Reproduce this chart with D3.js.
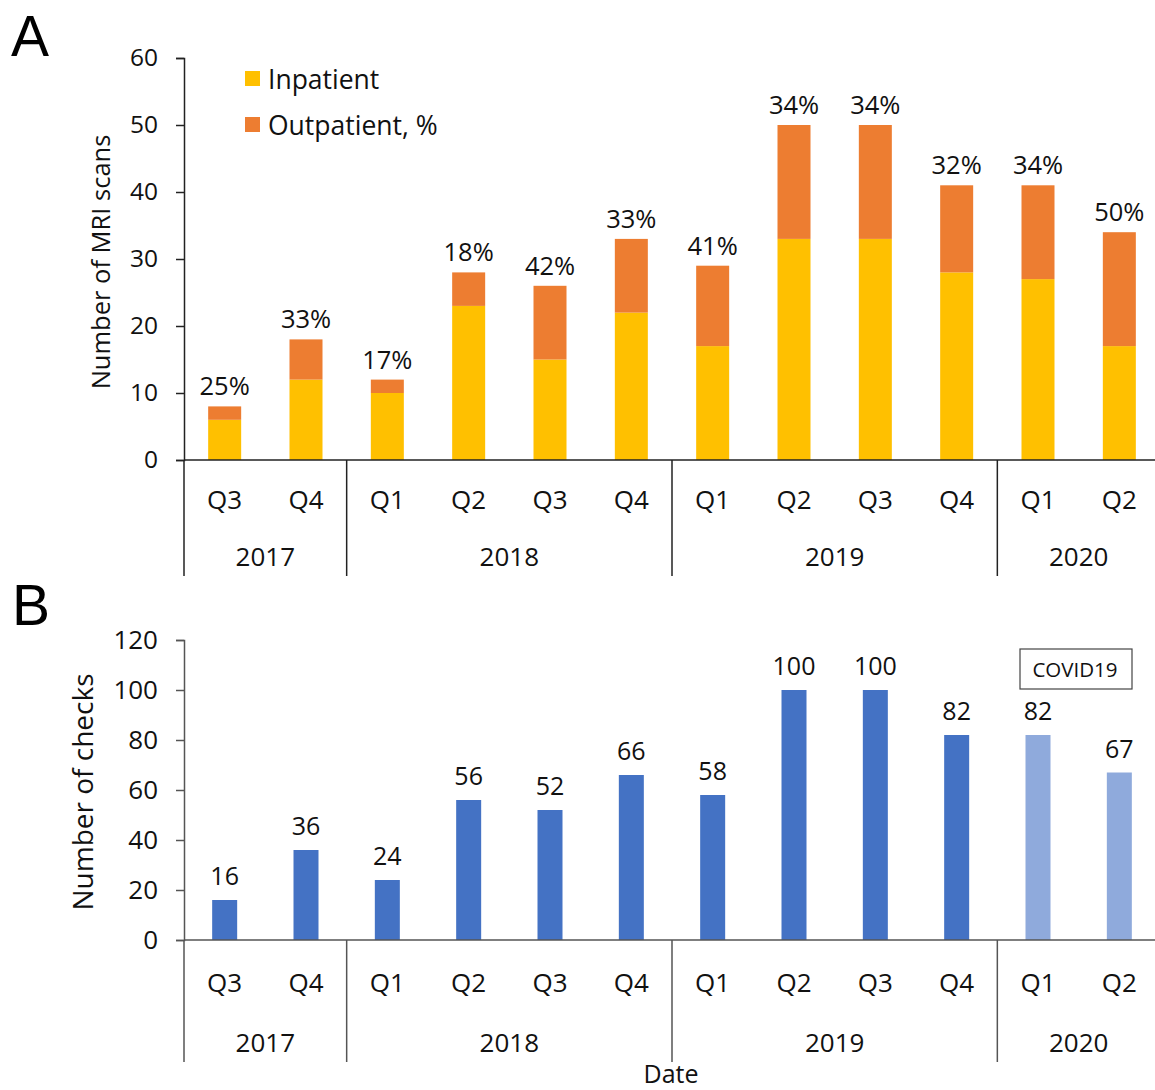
<!DOCTYPE html>
<html>
<head>
<meta charset="utf-8">
<script src="https://cdn.jsdelivr.net/npm/d3@7"></script>
<style>
  html, body { margin: 0; padding: 0; background: #fff; }
  svg { display: block; font-family: "Open Sans", "Noto Sans", sans-serif; }
</style>
</head>
<body>
<svg id="chart" width="1155" height="1090"></svg>
<script>
// Quarter / year categories
const years = ["2017", "2018", "2019", "2020"];
const quarterLabels = ["Q3", "Q4", "Q1", "Q2", "Q3", "Q4", "Q1", "Q2", "Q3", "Q4", "Q1", "Q2"];
const quarterYears = ["2017", "2017", "2018", "2018", "2018", "2018", "2019", "2019", "2019", "2019", "2020", "2020"];

// Panel A: MRI scans by patient type
const inpatient = [6, 12, 10, 23, 15, 22, 17, 33, 33, 28, 27, 17];
const outpatient = [2, 6, 2, 5, 11, 11, 12, 17, 17, 13, 14, 17];
const seriesNames = ["Inpatient", "Outpatient, %"];
const ticksA = [0, 10, 20, 30, 40, 50, 60];

// Panel B: number of checks
const checks = [16, 36, 24, 56, 52, 66, 58, 100, 100, 82, 82, 67];
const covidPeriod = [false, false, false, false, false, false, false, false, false, false, true, true];
const ticksB = [0, 20, 40, 60, 80, 100, 120];

const colors = { inpatient: "#FFC000", outpatient: "#ED7D31", checks: "#4472C4", covid: "#8FAADC" };

const svg = d3.select("#chart");
const keys = quarterLabels.map((q, i) => quarterYears[i] + "-" + q);

const xLeft = 184, xRight = 1160;
const x = d3.scaleBand().domain(keys).range([xLeft, xRight]).padding(0);

function drawCategoryAxis(g, baseY, axisColor, qY, yearY, sepBottom, fontSize) {
  // horizontal baseline
  g.append("line").attr("x1", xLeft).attr("x2", xRight)
    .attr("y1", baseY).attr("y2", baseY)
    .attr("stroke", axisColor).attr("stroke-width", 1.5);
  // quarter labels
  g.selectAll("text.q").data(keys).join("text")
    .attr("class", "q")
    .attr("x", d => x(d) + x.bandwidth() / 2)
    .attr("y", qY)
    .attr("text-anchor", "middle").attr("dominant-baseline", "central")
    .attr("font-size", fontSize).attr("fill", "#111")
    .text((d, i) => quarterLabels[i]);
  // year separators and labels
  const groups = years.map(y => {
    const ks = keys.filter((k, i) => quarterYears[i] === y);
    return { year: y, x0: x(ks[0]), x1: x(ks[ks.length - 1]) + x.bandwidth() };
  });
  g.selectAll("line.sep").data(groups).join("line")
    .attr("class", "sep")
    .attr("x1", d => d.x0).attr("x2", d => d.x0)
    .attr("y1", baseY).attr("y2", sepBottom)
    .attr("stroke", axisColor).attr("stroke-width", 1.5);
  g.selectAll("text.yr").data(groups).join("text")
    .attr("class", "yr")
    .attr("x", d => (d.x0 + d.x1) / 2)
    .attr("y", yearY)
    .attr("text-anchor", "middle").attr("dominant-baseline", "central")
    .attr("font-size", fontSize).attr("fill", "#111")
    .text(d => d.year);
}

function drawValueAxis(g, y, ticks, axisColor, fontSize) {
  const axis = d3.axisLeft(y).tickValues(ticks).tickSize(8).tickPadding(18).tickSizeOuter(8);
  const ag = g.append("g").attr("transform", `translate(${xLeft},0)`).call(axis);
  ag.select(".domain").attr("stroke", axisColor).attr("stroke-width", 1.5);
  ag.selectAll(".tick line").attr("stroke", axisColor).attr("stroke-width", 1.5);
  ag.selectAll(".tick text").attr("font-size", fontSize).attr("fill", "#111")
    .attr("font-family", "'Open Sans', 'Noto Sans', sans-serif");
}

// ---------- Panel A ----------
const gA = svg.append("g");
const yA = d3.scaleLinear().domain([0, 60]).range([460, 58]);
const bwA = 33;

svg.append("text").attr("x", 11).attr("y", 56)
  .attr("font-family", "'Liberation Sans', Arial, sans-serif")
  .attr("font-size", 57).attr("fill", "#000").text("A");

drawValueAxis(gA, yA, ticksA, "#222", 24.5);

const stackData = keys.map((k, i) => ({ key: k, inpatient: inpatient[i], outpatient: outpatient[i] }));
const stacked = d3.stack().keys(["inpatient", "outpatient"])(stackData);

gA.selectAll("g.layer").data(stacked).join("g")
  .attr("class", "layer")
  .attr("fill", d => colors[d.key])
  .selectAll("rect").data(d => d).join("rect")
  .attr("x", d => x(d.data.key) + (x.bandwidth() - bwA) / 2)
  .attr("width", bwA)
  .attr("y", d => yA(d[1]))
  .attr("height", d => yA(d[0]) - yA(d[1]));

// outpatient share labels
gA.selectAll("text.pct").data(stackData).join("text")
  .attr("class", "pct")
  .attr("x", d => x(d.key) + x.bandwidth() / 2)
  .attr("y", d => yA(d.inpatient + d.outpatient) - 11)
  .attr("text-anchor", "middle")
  .attr("font-size", 25.5).attr("fill", "#111")
  .text(d => Math.round(100 * d.outpatient / (d.inpatient + d.outpatient)) + "%");

drawCategoryAxis(gA, 460, "#222", 499, 556, 576, 26);

// legend
const legA = gA.append("g").attr("transform", "translate(245,0)");
[["inpatient", 79], ["outpatient", 125]].forEach(([k, cy], i) => {
  legA.append("rect").attr("x", 0).attr("y", cy - 8).attr("width", 15).attr("height", 15).attr("fill", colors[k]);
  legA.append("text").attr("x", 23).attr("y", cy).attr("dominant-baseline", "central")
    .attr("font-size", 26.5).attr("fill", "#111").text(seriesNames[i]);
});

svg.append("text")
  .attr("transform", `translate(100,262) rotate(-90)`)
  .attr("text-anchor", "middle").attr("dominant-baseline", "central")
  .attr("font-size", 25.5).attr("fill", "#111")
  .text("Number of MRI scans");

// ---------- Panel B ----------
const gB = svg.append("g");
const yB = d3.scaleLinear().domain([0, 120]).range([940, 640]);
const bwB = 25;

svg.append("text").attr("x", 12).attr("y", 625)
  .attr("font-family", "'Liberation Sans', Arial, sans-serif")
  .attr("font-size", 57).attr("fill", "#000").text("B");

drawValueAxis(gB, yB, ticksB, "#555", 26);

const dataB = keys.map((k, i) => ({ key: k, v: checks[i], covid: covidPeriod[i] }));
gB.selectAll("rect.bar").data(dataB).join("rect")
  .attr("class", "bar")
  .attr("x", d => x(d.key) + (x.bandwidth() - bwB) / 2)
  .attr("width", bwB)
  .attr("y", d => yB(d.v))
  .attr("height", d => yB(0) - yB(d.v))
  .attr("fill", d => d.covid ? colors.covid : colors.checks);

gB.selectAll("text.val").data(dataB).join("text")
  .attr("class", "val")
  .attr("x", d => x(d.key) + x.bandwidth() / 2)
  .attr("y", d => yB(d.v) - 15)
  .attr("text-anchor", "middle")
  .attr("font-size", 25).attr("fill", "#111")
  .text(d => d.v);

drawCategoryAxis(gB, 940, "#555", 982, 1042, 1062, 26);

// COVID19 annotation box
gB.append("rect").attr("x", 1020).attr("y", 649).attr("width", 112).attr("height", 40)
  .attr("fill", "#fff").attr("stroke", "#444").attr("stroke-width", 1.2);
gB.append("text").attr("x", 1075).attr("y", 669)
  .attr("text-anchor", "middle").attr("dominant-baseline", "central")
  .attr("font-size", 20.5).attr("fill", "#111").text("COVID19");

svg.append("text")
  .attr("transform", `translate(82,792) rotate(-90)`)
  .attr("text-anchor", "middle").attr("dominant-baseline", "central")
  .attr("font-size", 28).attr("fill", "#111")
  .text("Number of checks");

// x-axis title, baseline kept clear of the bottom edge
svg.append("text").attr("x", 671).attr("y", 1083)
  .attr("text-anchor", "middle")
  .attr("font-size", 25).attr("fill", "#111").text("Date");
</script>
</body>
</html>
